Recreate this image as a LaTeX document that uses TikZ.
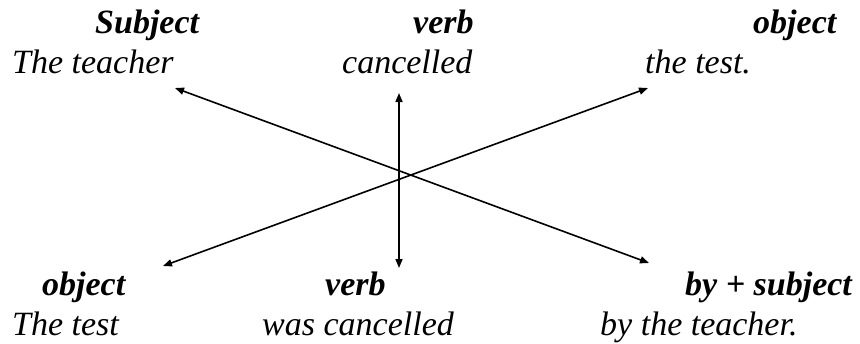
\documentclass[tikz,border=0pt]{standalone}
\usepackage{fontspec}
\setmainfont{Liberation Serif}
\usetikzlibrary{arrows.meta}

\begin{document}
\begin{tikzpicture}[x=1pt,y=-1pt,
	w/.style={inner sep=0pt,anchor=base west,font=\fontsize{34}{40}\selectfont\itshape},
	h/.style={w,font=\fontsize{34}{40}\selectfont\itshape\bfseries},
	ar/.style={line width=1.6pt,{Triangle[length=9pt,width=7pt]}-{Triangle[length=9pt,width=7pt]}}]
				\useasboundingbox (0,0) rectangle (860,343);
				% active sentence
				\node[h] (subj) at (95,33) {Subject};
				\node[w] (teacher) at (12,73) {The teacher};
				\node[h] (verbA) at (413,33) {verb};
				\node[w] (cancelled) at (342,73) {cancelled};
				\node[h] (objA) at (753,33) {object};
				\node[w] (test) at (645,73) {the test.};
				% passive sentence
				\node[h] (objP) at (42,295) {object};
				\node[w] (theTest) at (12,335) {The test};
				\node[h] (verbP) at (325,295) {verb};
				\node[w] (wasCancelled) at (262,335) {was cancelled};
				\node[h] (bySubj) at (685,295) {by + subject};
				\node[w] (byTeacher) at (600,335) {by the teacher.};
				% arrow ends
				\coordinate (A1) at (175,88);
				\coordinate (B1) at (649,263);
				\coordinate (A2) at (648,88);
				\coordinate (B2) at (163,266);
				\coordinate (A3) at (399,93);
				\coordinate (B3) at (399,268);
				\draw[ar] (A1) -- (B1);
				\draw[ar] (A2) -- (B2);
				\draw[ar] (A3) -- (B3);
			\end{tikzpicture}
\end{document}
